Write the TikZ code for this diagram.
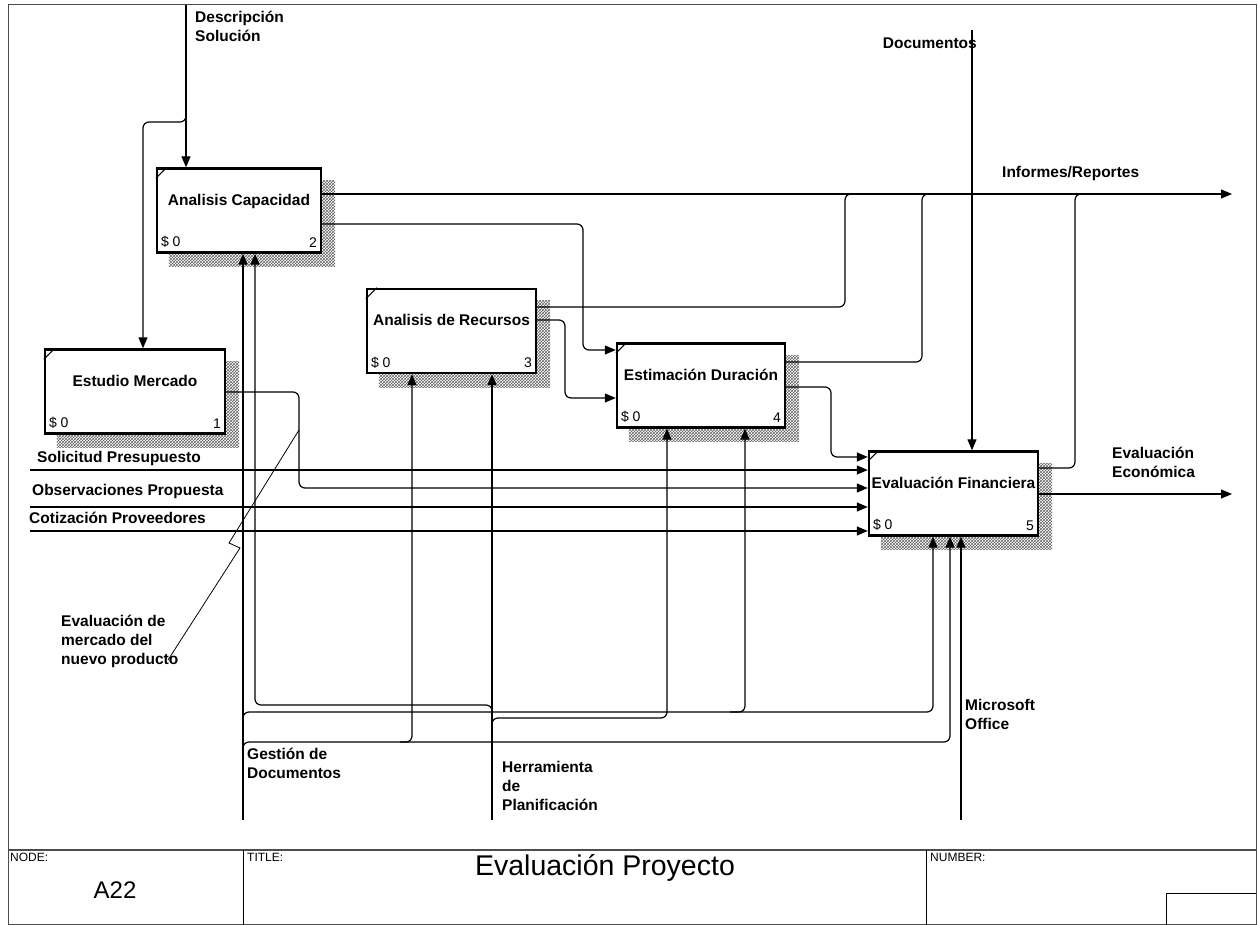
\documentclass[tikz,border=0pt]{standalone}
\usepackage{fontspec}
\setmainfont{Liberation Sans}
\usetikzlibrary{arrows.meta,patterns,backgrounds}

\begin{document}
\begin{tikzpicture}[
  x=1pt, y=-1pt,
  lbl/.style={font=\fontsize{15.5}{19}\selectfont\bfseries, inner sep=0pt, align=left},
  cost/.style={font=\fontsize{14}{16}\selectfont, inner xsep=5pt, inner ysep=6pt},
  box/.style={draw, line width=2.4pt, fill=white, minimum height=84pt, text depth=22pt, inner sep=0pt,
    font=\fontsize{15.5}{19}\selectfont\bfseries, label={[cost, anchor=south west]south west:{\$ 0}}},
  flow/.style={line width=1.2pt, rounded corners=6pt, -{Triangle[length=11pt,width=9pt]}},
  route/.style={line width=1.2pt, rounded corners=6pt},
  shade/.style={pattern=crosshatch, pattern color=gray!80!black},
  tb/.style={font=\fontsize{12}{14}\selectfont, inner sep=0pt, anchor=north west}
]
\useasboundingbox (0,0) rectangle (1259,925);

% frame and title block
\draw[line width=1pt, gray!60!black] (8,5) rectangle (1256,924);
\draw[line width=1.6pt, gray!60!black] (8,850) -- (1256,850);
\draw[line width=1pt] (243,850) -- (243,925) (926,850) -- (926,925);
\draw[line width=1pt] (1256,893) -| (1166,925);
\node[tb] (nodelbl) at (10,853) {NODE:};
\node[tb] (titlelbl) at (247,853) {TITLE:};
\node[tb] (numlbl) at (930,853) {NUMBER:};
\node[font=\fontsize{24}{28}\selectfont, inner sep=0pt] (nodenum) at (115,890) {A22};
\node[font=\fontsize{28.5}{32}\selectfont, inner sep=0pt] (title) at (605,868) {Evaluación Proyecto};

% activity boxes
\node[box, minimum width=180pt, label={[cost, anchor=south east]south east:1}] (mercado) at (135,391.5) {Estudio Mercado};
\node[box, minimum width=164pt, label={[cost, anchor=south east]south east:2}] (capacidad) at (239,210.5) {Analisis Capacidad};
\node[box, minimum width=169pt, label={[cost, anchor=south east]south east:3}] (recursos) at (451.5,331) {Analisis de Recursos};
\node[box, minimum width=168pt, label={[cost, anchor=south east]south east:4}] (duracion) at (701,385.5) {Estimación Duración};
\node[box, minimum width=169pt, label={[cost, anchor=south east]south east:5}] (financiera) at (953.5,493.5) {Evaluación Financiera};

\begin{scope}[on background layer]
\foreach \b in {mercado,capacidad,recursos,duracion,financiera}
  \fill[shade] ([shift={(13pt,-13pt)}]\b.north west) rectangle ([shift={(13pt,-13pt)}]\b.south east);
\end{scope}
\foreach \b in {mercado,capacidad,recursos,duracion,financiera}
  \draw[line width=1.2pt] ([yshift=-11pt]\b.north west) -- ([xshift=11pt]\b.north west);

% controls
\coordinate (desc) at (186,5);
\coordinate (docs) at (972,30);
\draw[flow] (desc) -- (capacidad.north -| desc);
\draw[flow] (desc |- 0,110) -- (desc |- 0,122) -| (mercado.north -| 143,0);
\draw[flow] (docs) -- (financiera.north -| docs);

% outputs
\coordinate (inf) at (1232,194);
\coordinate (eco) at (1232,494);
\draw[flow] (capacidad.east |- inf) -- (inf);
\draw[route] (recursos.east |- 0,307) -| (845,194) -- (858,194);
\draw[route] (duracion.east |- 0,362) -| (922,194) -- (935,194);
\draw[route] (financiera.east |- 0,468) -| (1075,194) -- (1088,194);
\draw[flow] (financiera.east |- eco) -- (eco);

% flows between activities
\draw[flow] (capacidad.east |- 0,224) -| (583,350) -- (duracion.west |- 0,350);
\draw[flow] (recursos.east |- 0,320) -| (565,398) -- (duracion.west |- 0,398);
\draw[flow] (duracion.east |- 0,387) -| (831,457) -- (financiera.west |- 0,457);
\draw[flow] (mercado.east |- 0,392) -| (299,488) -- (financiera.west |- 0,488);

% inputs
\coordinate (sol) at (30,470);
\coordinate (obs) at (30,507);
\coordinate (cot) at (30,531);
\draw[flow] (sol) -- (financiera.west |- sol);
\draw[flow] (obs) -- (financiera.west |- obs);
\draw[flow] (cot) -- (financiera.west |- cot);

% squiggle to label
\coordinate (squig) at (168,660);
\draw[line width=0.8pt] (299,430) -- (229,543) -- (240,548) -- (squig);

% mechanisms
\coordinate (gest) at (243,820);
\coordinate (herr) at (492,820);
\coordinate (msof) at (961,820);
\draw[flow] (gest) -- (capacidad.south -| gest);
\draw[flow] (herr) -- (recursos.south -| herr);
\draw[flow] (msof) -- (financiera.south -| msof);
\draw[flow] (herr |- 0,716) -- (herr |- 0,705) -| (capacidad.south -| 255,0);
\draw[flow] (herr |- 0,730) -- (herr |- 0,718) -| (duracion.south -| 667,0);
\draw[flow] (gest |- 0,725) -- (gest |- 0,712) -| (financiera.south -| 933,0);
\draw[flow] (730,712) -| (duracion.south -| 745,0);
\draw[flow] (gest |- 0,755) -- (gest |- 0,742) -| (financiera.south -| 950,0);
\draw[flow] (400,742) -| (recursos.south -| 412,0);

% arrow labels
\node[lbl, anchor=north west] (desclbl) at (195,11) {Descripción\\Solución};
\node[lbl, anchor=east] (docslbl) at (977,43) {Documentos};
\node[lbl, anchor=west] (inflbl) at (1002,173) {Informes/Reportes};
\node[lbl, anchor=west] (sollbl) at (37,458) {Solicitud Presupuesto};
\node[lbl, anchor=west] (obslbl) at (32,491) {Observaciones Propuesta};
\node[lbl, anchor=west] (cotlbl) at (29,518) {Cotización Proveedores};
\node[lbl, anchor=north west] (ecolbl) at (1112,447) {Evaluación\\Económica};
\node[lbl, anchor=north west] (evalmlbl) at (61,615) {Evaluación de\\mercado del\\nuevo producto};
\node[lbl, anchor=north west] (gestlbl) at (247,748) {Gestión de\\Documentos};
\node[lbl, anchor=north west] (herrlbl) at (502,761) {Herramienta\\de\\Planificación};
\node[lbl, anchor=north west] (msoflbl) at (965,699) {Microsoft\\Office};
\end{tikzpicture}
\end{document}
